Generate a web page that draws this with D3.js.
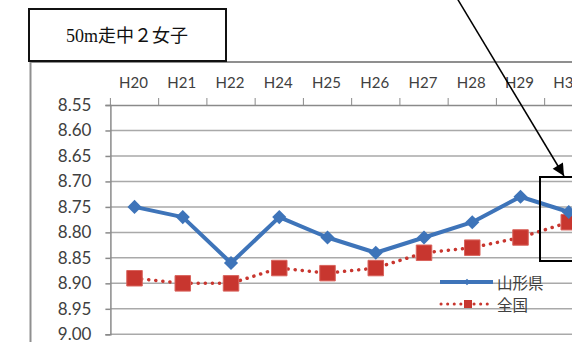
<!DOCTYPE html>
<html>
<head>
<meta charset="utf-8">
<script src="https://cdn.jsdelivr.net/npm/d3@7"></script>
<style>
  html, body { margin: 0; padding: 0; background: #fff; }
  svg { display: block; }
</style>
</head>
<body>
<svg id="chart" width="572" height="342"></svg>
<script>
// 50m走 中学2年 女子: 山形県と全国の平均記録 (秒)
const years = ["H20", "H21", "H22", "H24", "H25", "H26", "H27", "H28", "H29", "H30"];
const yamagata = [8.75, 8.77, 8.86, 8.77, 8.81, 8.84, 8.81, 8.78, 8.73, 8.76];
const zenkoku  = [8.89, 8.90, 8.90, 8.87, 8.88, 8.87, 8.84, 8.83, 8.81, 8.78];
const yTicks = [8.55, 8.60, 8.65, 8.70, 8.75, 8.80, 8.85, 8.90, 8.95, 9.00];
const seriesNames = ["山形県", "全国"];
const titleText = "50m走中２女子";

const svg = d3.select("#chart");
const blue = "#3E74B9";
const red = "#C8362F";
const gridColor = "#a9a9a9";
const textColor = "#404040";

// scales: times are plotted with the smaller (faster) value at the top
const x = d3.scaleBand().domain(years).range([110.4, 592.9]).paddingInner(0).paddingOuter(0);
const y = d3.scaleLinear().domain([8.55, 9.00]).range([105, 334.3]);

// outer chart frame
svg.append("line").attr("x1", 30.5).attr("x2", 30.5).attr("y1", 61).attr("y2", 342)
  .attr("stroke", "#8f8f8f").attr("stroke-width", 2);
svg.append("line").attr("x1", 30).attr("x2", 572).attr("y1", 62).attr("y2", 62)
  .attr("stroke", "#8f8f8f").attr("stroke-width", 2);

// horizontal gridlines
svg.append("g").selectAll("line").data(yTicks.slice(1)).join("line")
  .attr("x1", x.range()[0]).attr("x2", 572)
  .attr("y1", d => y(d)).attr("y2", d => y(d))
  .attr("stroke", gridColor).attr("stroke-width", 1.5);

// value axis on the left
const yAxis = svg.append("g").attr("transform", `translate(${x.range()[0]},0)`)
  .call(d3.axisLeft(y).tickValues(yTicks).tickFormat(d3.format(".2f")).tickSize(5).tickPadding(14));
yAxis.select(".domain").attr("stroke", "#8a8a8a").attr("stroke-width", 1.5);
yAxis.selectAll(".tick line").attr("stroke", "#8a8a8a").attr("stroke-width", 1.5);
yAxis.selectAll(".tick text").attr("fill", textColor)
  .style("font-family", "Lato, 'Open Sans', sans-serif").style("font-size", "17px");

// category axis along the top, ticks between categories
const xAxis = svg.append("g").attr("transform", `translate(0,${y(8.55)})`)
  .call(d3.axisTop(x).tickSize(0).tickPadding(17));
xAxis.select(".domain").attr("stroke", "#8a8a8a").attr("stroke-width", 1.5);
xAxis.selectAll(".tick text").attr("fill", textColor).attr("dx", -1)
  .style("font-family", "Lato, 'Open Sans', sans-serif").style("font-size", "15px");
svg.append("g").selectAll("line").data(years).join("line")
  .attr("x1", d => x(d)).attr("x2", d => x(d))
  .attr("y1", y(8.55)).attr("y2", y(8.55) - 7)
  .attr("stroke", "#8a8a8a").attr("stroke-width", 1);

const cx = d => x(d) + x.bandwidth() / 2;

// 全国: dotted red line with square markers
const lineGen = d3.line().x((d, i) => cx(years[i])).y(d => y(d));
svg.append("path").datum(zenkoku).attr("d", lineGen)
  .attr("fill", "none").attr("stroke", red).attr("stroke-width", 3.5)
  .attr("stroke-linecap", "round").attr("stroke-dasharray", "0.1,7");
svg.append("g").selectAll("path").data(zenkoku).join("path")
  .attr("d", d3.symbol(d3.symbolSquare, 240))
  .attr("transform", (d, i) => `translate(${cx(years[i])},${y(d)})`)
  .attr("fill", red).attr("stroke", "#d9635c").attr("stroke-width", 1);

// 山形県: solid blue line with diamond markers
svg.append("path").datum(yamagata).attr("d", lineGen)
  .attr("fill", "none").attr("stroke", blue).attr("stroke-width", 4)
  .attr("stroke-linejoin", "round");
svg.append("g").selectAll("path").data(yamagata).join("path")
  .attr("d", d3.symbol(d3.symbolSquare, 100))
  .attr("transform", (d, i) => `translate(${cx(years[i])},${y(d)}) rotate(45)`)
  .attr("fill", blue);

// legend
const lg = svg.append("g").attr("transform", "translate(440,0)");
lg.append("line").attr("x1", 0).attr("x2", 53).attr("y1", 282).attr("y2", 282)
  .attr("stroke", blue).attr("stroke-width", 4);
lg.append("path").attr("d", d3.symbol(d3.symbolSquare, 22))
  .attr("transform", "translate(27,282) rotate(45)").attr("fill", blue);
lg.append("line").attr("x1", 1).attr("x2", 51).attr("y1", 304).attr("y2", 304)
  .attr("stroke", red).attr("stroke-width", 3).attr("stroke-linecap", "round")
  .attr("stroke-dasharray", "0.1,6.5");
lg.append("path").attr("d", d3.symbol(d3.symbolSquare, 64))
  .attr("transform", "translate(28,304)").attr("fill", red);
lg.selectAll("text").data(seriesNames).join("text")
  .attr("x", 57).attr("y", (d, i) => 282 + i * 22)
  .attr("dominant-baseline", "central")
  .attr("fill", textColor)
  .style("font-family", "'Noto Sans CJK JP', sans-serif").style("font-size", "15.5px")
  .text(d => d);

// title box
svg.append("rect").attr("x", 29).attr("y", 9).attr("width", 197).attr("height", 52)
  .attr("fill", "#fff").attr("stroke", "#111").attr("stroke-width", 2);
svg.append("text").attr("x", 127).attr("y", 36)
  .attr("text-anchor", "middle").attr("dominant-baseline", "central")
  .attr("fill", "#111")
  .style("font-family", "'Liberation Serif', 'Noto Sans CJK JP', serif").style("font-size", "18px")
  .text(titleText);

// highlight box around the latest year and pointer arrow
svg.append("defs").append("marker")
  .attr("id", "arrowhead").attr("viewBox", "0 0 10 10")
  .attr("refX", 10).attr("refY", 5)
  .attr("markerWidth", 16).attr("markerHeight", 12)
  .attr("markerUnits", "userSpaceOnUse")
  .attr("orient", "auto")
  .append("path").attr("d", "M0,0 L10,5 L0,10 Z").attr("fill", "#000");
svg.append("rect").attr("x", 540).attr("y", 177).attr("width", 40).attr("height", 84)
  .attr("fill", "none").attr("stroke", "#000").attr("stroke-width", 2);
svg.append("line").attr("x1", 457.5).attr("y1", -1).attr("x2", 564).attr("y2", 176)
  .attr("stroke", "#000").attr("stroke-width", 1.5).attr("marker-end", "url(#arrowhead)");
</script>
</body>
</html>
